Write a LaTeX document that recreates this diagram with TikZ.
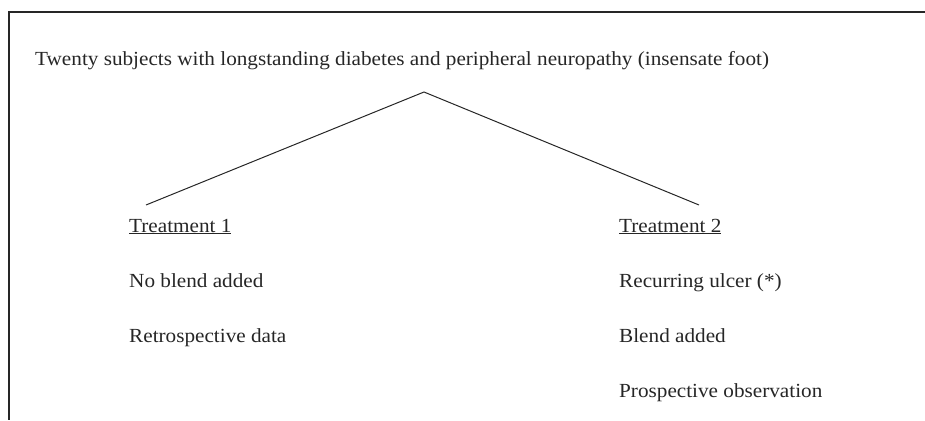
\documentclass[tikz,border=0pt]{standalone}
\usepackage{fontspec}
\setmainfont[FakeStretch=1.06]{Liberation Serif}
\usepackage{tikz}

\begin{document}
\begin{tikzpicture}[x=1pt, y=-1pt,
    txt/.style={anchor=base west, inner sep=0, text=black!85,
      font=\fontsize{20}{23}\selectfont}]
  \useasboundingbox (0, 0) rectangle (925, 420);

  \draw[line width=1.3pt, black!85] (925, 12) -- (9, 12) -- (9, 420);

  \node[txt] (title) at (35, 66)
    {Twenty subjects with longstanding diabetes and peripheral neuropathy (insensate foot)};

  \node[txt] (treatA) at (129, 232) {\underline{Treatment 1}};
  \node[txt] (noblend) at (129, 287) {No blend added};
  \node[txt] (retro) at (129, 342) {Retrospective data};

  \node[txt] (treatB) at (619, 232) {\underline{Treatment 2}};
  \node[txt] (ulcer) at (619, 287) {Recurring ulcer (*)};
  \node[txt] (blend) at (619, 342) {Blend added};
  \node[txt] (prosp) at (619, 397) {Prospective observation};

  \coordinate (apex) at (424, 92);
  \coordinate (A1) at (146, 205);
  \coordinate (B1) at (699, 205);

  \draw[line width=1pt, black!85]
    (A1) -- (apex) -- (B1);
\end{tikzpicture}
\end{document}
